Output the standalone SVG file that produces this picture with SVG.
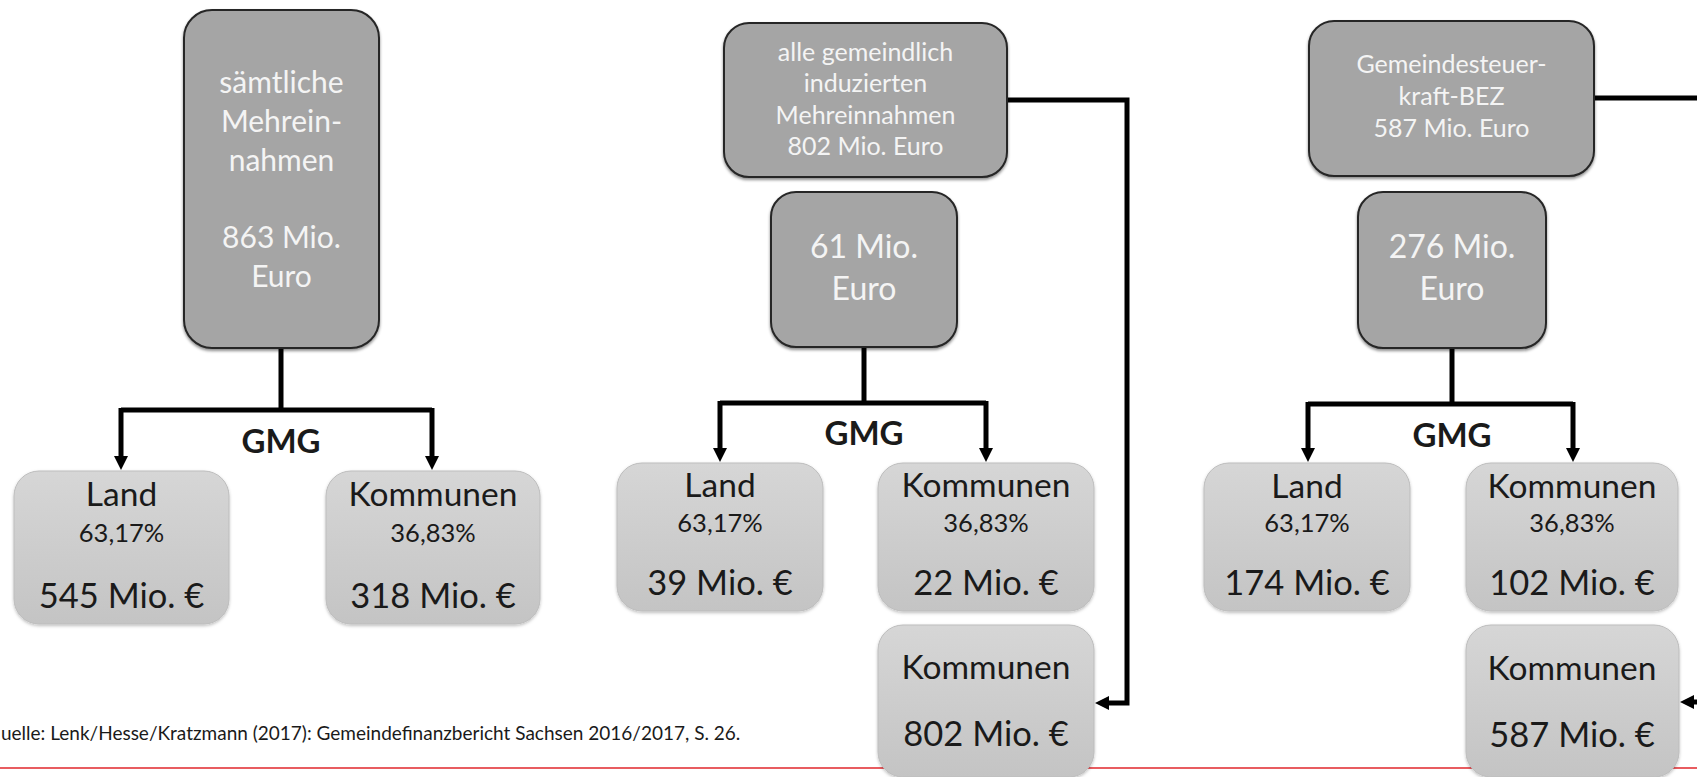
<svg xmlns="http://www.w3.org/2000/svg" width="1697" height="777" viewBox="0 0 1697 777">
<style>
.dark{fill:#a5a5a5;stroke:#262626;stroke-width:2}
.light{fill:url(#lg);stroke:#bdbdbd;stroke-width:1}
.wt{fill:#f4f4f4;font-family:Lato,"Liberation Sans",sans-serif;text-anchor:middle}
.bt{fill:#1a1a1a;font-family:Lato,"Liberation Sans",sans-serif;text-anchor:middle}
.big{font-size:30px}
.mid{font-size:32px}
.hd{font-size:33.5px}
.sm{font-size:25px}
.amt{font-size:34.5px}
.pct{font-size:25.5px}
.gmg{font-size:33px;font-weight:bold}
.ln{fill:none;stroke:#000;stroke-width:5}
</style>
<defs>
<linearGradient id="lg" x1="0" y1="0" x2="0" y2="1">
<stop offset="0" stop-color="#d6d6d6"/>
<stop offset="1" stop-color="#c4c4c4"/>
</linearGradient>
<filter id="sh" x="-10%" y="-10%" width="120%" height="120%">
<feDropShadow dx="0" dy="2" stdDeviation="1.5" flood-color="#000" flood-opacity="0.45"/>
</filter>
<filter id="sh2" x="-10%" y="-10%" width="120%" height="120%">
<feDropShadow dx="0" dy="1.5" stdDeviation="1.5" flood-color="#000" flood-opacity="0.25"/>
</filter>
<marker id="ah" markerUnits="userSpaceOnUse" markerWidth="16" markerHeight="16" viewBox="0 0 16 16" refX="3" refY="8" orient="auto">
<path d="M0,1 L14,8 L0,15 Z" fill="#000"/>
</marker>
</defs>

<line x1="0" y1="768" x2="1697" y2="768" stroke="#e0262b" stroke-width="1.5"/>

<g id="connectors">
<path class="ln" d="M281,348 V410"/>
<path class="ln" d="M121,410 H432"/>
<path class="ln" d="M121,408 V459" marker-end="url(#ah)"/>
<path class="ln" d="M432,408 V459" marker-end="url(#ah)"/>

<path class="ln" d="M864,347 V403"/>
<path class="ln" d="M720,403 H986"/>
<path class="ln" d="M720,401 V451" marker-end="url(#ah)"/>
<path class="ln" d="M986,401 V451" marker-end="url(#ah)"/>
<path class="ln" d="M1007,100 H1127 V703 H1106" marker-end="url(#ah)"/>

<path class="ln" d="M1452,348 V404"/>
<path class="ln" d="M1308,404 H1573"/>
<path class="ln" d="M1308,402 V451" marker-end="url(#ah)"/>
<path class="ln" d="M1573,402 V451" marker-end="url(#ah)"/>
<path class="ln" d="M1594,98 H1697"/>
<path class="ln" d="M1700,702 H1691" marker-end="url(#ah)"/>
</g>

<g id="gmg-labels">
<text class="bt gmg" x="281" y="453">GMG</text>
<text class="bt gmg" x="864" y="445">GMG</text>
<text class="bt gmg" x="1452" y="447">GMG</text>
</g>

<g id="n-saemtliche">
<rect class="dark" filter="url(#sh)" x="184" y="10" width="195" height="338" rx="28"/>
<text class="wt big" x="281.5" y="93">sämtliche</text>
<text class="wt big" x="281.5" y="132">Mehrein-</text>
<text class="wt big" x="281.5" y="171">nahmen</text>
<text class="wt big" x="281.5" y="248">863 Mio.</text>
<text class="wt big" x="281.5" y="287">Euro</text>
</g>
<g id="n-land1">
<rect class="light" filter="url(#sh2)" x="14" y="471" width="215" height="153" rx="25"/>
<text class="bt hd" x="121.5" y="506">Land</text>
<text class="bt pct" x="121.5" y="542">63,17%</text>
<text class="bt amt" x="121.5" y="608">545 Mio. €</text>
</g>
<g id="n-kom1">
<rect class="light" filter="url(#sh2)" x="326" y="471" width="214" height="153" rx="25"/>
<text class="bt hd" x="433" y="506">Kommunen</text>
<text class="bt pct" x="433" y="542">36,83%</text>
<text class="bt amt" x="433" y="608">318 Mio. €</text>
</g>

<g id="n-gemeindlich">
<rect class="dark" filter="url(#sh)" x="724" y="23" width="283" height="154" rx="25"/>
<text class="wt sm" x="865.5" y="61">alle gemeindlich</text>
<text class="wt sm" x="865.5" y="92">induzierten</text>
<text class="wt sm" x="865.5" y="124">Mehreinnahmen</text>
<text class="wt sm" x="865.5" y="155">802 Mio. Euro</text>
</g>
<g id="n-61">
<rect class="dark" filter="url(#sh)" x="771" y="192" width="186" height="155" rx="25"/>
<text class="wt mid" x="864" y="258">61 Mio.</text>
<text class="wt mid" x="864" y="300">Euro</text>
</g>
<g id="n-land2">
<rect class="light" filter="url(#sh2)" x="617" y="463" width="206" height="148" rx="25"/>
<text class="bt hd" x="720" y="497">Land</text>
<text class="bt pct" x="720" y="532">63,17%</text>
<text class="bt amt" x="720" y="595">39 Mio. €</text>
</g>
<g id="n-kom2">
<rect class="light" filter="url(#sh2)" x="878" y="463" width="216" height="148" rx="25"/>
<text class="bt hd" x="986" y="497">Kommunen</text>
<text class="bt pct" x="986" y="532">36,83%</text>
<text class="bt amt" x="986" y="595">22 Mio. €</text>
</g>
<g id="n-kom802">
<rect class="light" filter="url(#sh2)" x="878" y="625" width="216" height="152" rx="25"/>
<text class="bt hd" x="986" y="679">Kommunen</text>
<text class="bt amt" x="986" y="746">802 Mio. €</text>
</g>

<g id="n-bez">
<rect class="dark" filter="url(#sh)" x="1309" y="21" width="285" height="155" rx="25"/>
<text class="wt sm" x="1451.5" y="73">Gemeindesteuer-</text>
<text class="wt sm" x="1451.5" y="105">kraft-BEZ</text>
<text class="wt sm" x="1451.5" y="137">587 Mio. Euro</text>
</g>
<g id="n-276">
<rect class="dark" filter="url(#sh)" x="1358" y="192" width="188" height="156" rx="25"/>
<text class="wt mid" x="1452" y="258">276 Mio.</text>
<text class="wt mid" x="1452" y="300">Euro</text>
</g>
<g id="n-land3">
<rect class="light" filter="url(#sh2)" x="1204" y="463" width="206" height="148" rx="25"/>
<text class="bt hd" x="1307" y="498">Land</text>
<text class="bt pct" x="1307" y="532">63,17%</text>
<text class="bt amt" x="1307" y="595">174 Mio. €</text>
</g>
<g id="n-kom3">
<rect class="light" filter="url(#sh2)" x="1466" y="463" width="212" height="148" rx="25"/>
<text class="bt hd" x="1572" y="498">Kommunen</text>
<text class="bt pct" x="1572" y="532">36,83%</text>
<text class="bt amt" x="1572" y="595">102 Mio. €</text>
</g>
<g id="n-kom587">
<rect class="light" filter="url(#sh2)" x="1466" y="625" width="213" height="152" rx="25"/>
<text class="bt hd" x="1572" y="680">Kommunen</text>
<text class="bt amt" x="1572" y="747">587 Mio. €</text>
</g>

<text x="1" y="740" fill="#1a1a1a" font-family="Lato, 'Liberation Sans', sans-serif" font-size="19">uelle: Lenk/Hesse/Kratzmann (2017): Gemeindefinanzbericht Sachsen 2016/2017, S. 26.</text>
</svg>
